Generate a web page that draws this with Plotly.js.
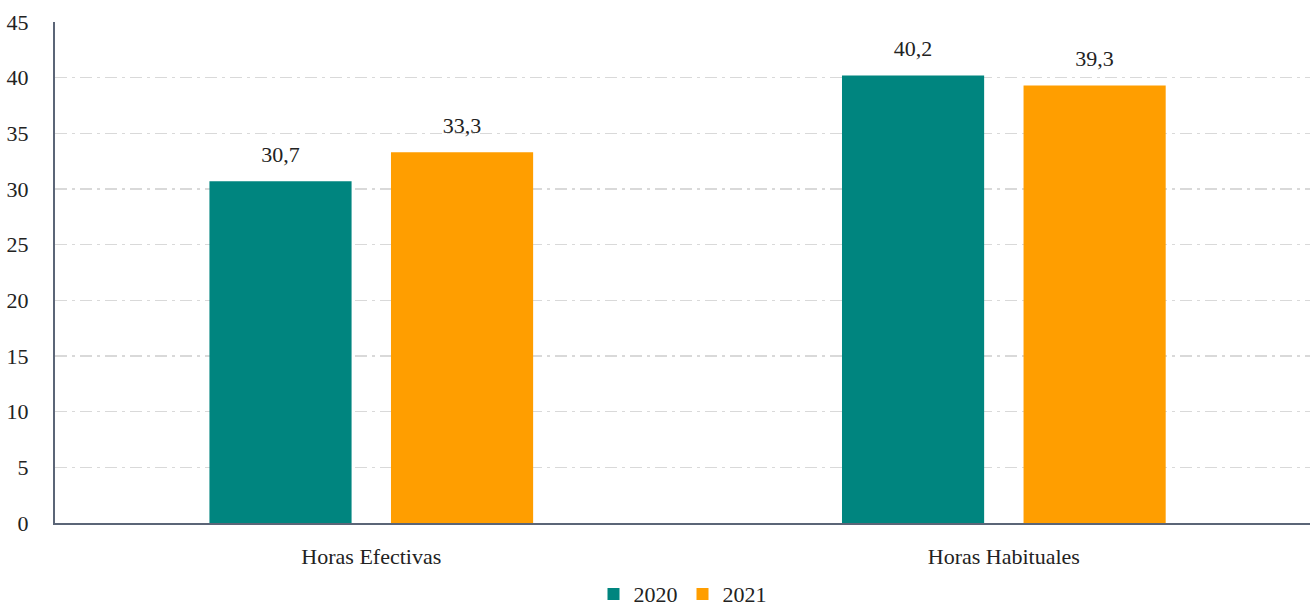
<!DOCTYPE html>
<html>
<head>
<meta charset="utf-8">
<script src="https://cdn.plot.ly/plotly-3.0.1.min.js"></script>
<style>html,body{margin:0;padding:0;background:#fff;}#chart{width:1310px;height:611px;}</style>
</head>
<body>
<div id="chart"></div>
<script>
const categories = ["Horas Efectivas", "Horas Habituales"];
const series2020 = [30.7, 40.2];
const series2021 = [33.3, 39.3];
const seriesNames = ["2020", "2021"];
const seriesColors = ["#00857F", "#FF9E00"];
const yTicks = [0, 5, 10, 15, 20, 25, 30, 35, 40, 45];

const FONT = "'Liberation Serif', 'Times New Roman', serif";
const FS = 22;
const fmt = v => v.toFixed(1).replace(".", ",");

const allSeries = [series2020, series2021];
const traces = [];
allSeries.forEach((s, i) => {
  traces.push({type: "bar", name: seriesNames[i], x: categories, y: s,
    marker: {color: seriesColors[i]}, hoverinfo: "none", offsetgroup: String(i)});
});
allSeries.forEach((s, i) => {
  traces.push({type: "scatter", mode: "markers+text", showlegend: false, x: categories, y: s,
    marker: {size: 20, opacity: 0}, text: s.map(fmt), textposition: "top center",
    textfont: {family: FONT, size: FS, color: "#222"}, cliponaxis: false, hoverinfo: "none",
    offsetgroup: String(i)});
});

const layout = {
  width: 1310, height: 611,
  margin: {l: 55, r: 0, t: 22, b: 88, autoexpand: false},
  paper_bgcolor: "#fff", plot_bgcolor: "#fff",
  font: {family: FONT, size: FS, color: "#222"},
  barmode: "group", bargap: 0.426, bargroupgap: 0.217,
  scattermode: "group", scattergap: 0.426,
  showlegend: true,
  legend: {orientation: "h", x: 0.5, xanchor: "center", y: -0.1, yanchor: "top",
           font: {family: FONT, size: FS, color: "#222"}, itemwidth: 30, traceorder: "normal"},
  xaxis: {type: "category", range: [-0.5, 1.484], showgrid: false, zeroline: false,
          showline: true, linecolor: "#5b6577", linewidth: 2, ticks: "", ticklen: 0,
          ticklabelstandoff: 13, automargin: false,
          tickfont: {family: FONT, size: FS, color: "#222"}, fixedrange: true},
  yaxis: {range: [0, 45], tickvals: yTicks, ticktext: yTicks.map(String), showgrid: true,
          gridcolor: "#d9d9d9", griddash: "12px,5px,3px,5px", gridwidth: 1.5,
          zeroline: false, showline: true, linecolor: "#5b6577", linewidth: 2,
          ticks: "", ticklabelstandoff: 20, automargin: false,
          tickfont: {family: FONT, size: FS, color: "#222"}, fixedrange: true}
};

Plotly.newPlot("chart", traces, layout, {displayModeBar: false, staticPlot: true});
</script>
</body>
</html>
